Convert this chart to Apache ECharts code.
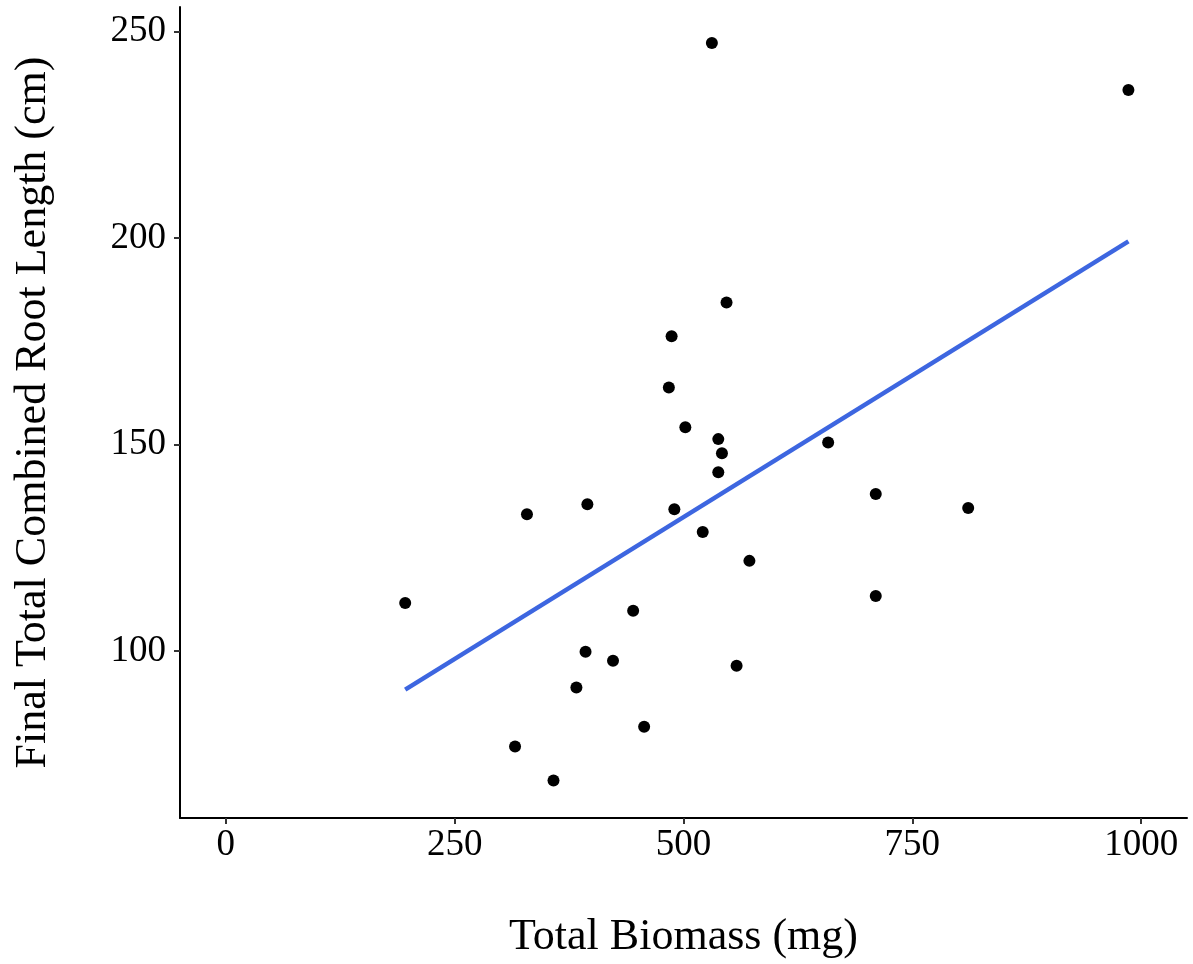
<!DOCTYPE html>
<html>
<head>
<meta charset="utf-8">
<script src="https://cdn.jsdelivr.net/npm/echarts@6/dist/echarts.min.js"></script>
<style>
html,body{margin:0;padding:0;background:#fff;}
#chart{width:1193px;height:964px;}
</style>
</head>
<body>
<div id="chart"></div>
<script>
// Data
var biomass = [196, 316, 329, 358, 383, 395, 393, 423, 445, 457, 484, 487, 490, 502, 521, 531, 538, 538, 542, 547, 558, 572, 658, 710, 710, 811, 986];
var rootLength = [111.6, 76.8, 133.1, 68.6, 91.1, 135.5, 99.8, 97.6, 109.7, 81.6, 163.8, 176.2, 134.3, 154.2, 128.8, 247.3, 151.3, 143.3, 147.9, 184.4, 96.4, 121.8, 150.5, 138.0, 113.3, 134.6, 235.9];
// Linear fit endpoints
var fitX = [196, 986];
var fitY = [90.6, 199.2];
var xTicks = [0, 250, 500, 750, 1000];
var yTicks = [100, 150, 200, 250];

var points = biomass.map(function (x, i) { return [x, rootLength[i]]; });
var fitLine = fitX.map(function (x, i) { return [x, fitY[i]]; });

var font = 'Liberation Serif';
var chart = echarts.init(document.getElementById('chart'));
chart.setOption({
  animation: false,
  backgroundColor: '#ffffff',
  grid: { left: 180, right: 6, top: 7, bottom: 145, containLabel: false },
  xAxis: {
    type: 'value', min: -50, max: 1050,
    name: 'Total Biomass (mg)', nameLocation: 'middle', nameGap: 97,
    nameTextStyle: { fontFamily: font, fontSize: 44, color: '#000' },
    axisLine: { show: true, onZero: false, lineStyle: { color: '#000', width: 2 } },
    axisTick: { show: true, length: 6, customValues: xTicks, lineStyle: { color: '#333', width: 2 } },
    axisLabel: { customValues: xTicks, fontFamily: font, fontSize: 37, color: '#000', margin: 9,
      formatter: function (v) { return String(v); } },
    splitLine: { show: false }
  },
  yAxis: {
    type: 'value', min: 59.5, max: 256,
    name: 'Final Total Combined Root Length (cm)', nameLocation: 'middle', nameGap: 125,
    nameTextStyle: { fontFamily: font, fontSize: 44, color: '#000' },
    axisLine: { show: true, onZero: false, lineStyle: { color: '#000', width: 2 } },
    axisTick: { show: true, length: 6, customValues: yTicks, lineStyle: { color: '#333', width: 2 } },
    axisLabel: { customValues: yTicks, fontFamily: font, fontSize: 37, color: '#000', margin: 14,
      formatter: function (v) { return String(v); } },
    splitLine: { show: false }
  },
  series: [
    {
      type: 'scatter', data: points, symbolSize: 12,
      itemStyle: { color: '#000', opacity: 1 }, z: 3
    },
    {
      type: 'line', data: fitLine, showSymbol: false, symbol: 'none',
      lineStyle: { color: '#3D66E0', width: 4.5 }, z: 2
    }
  ]
});
</script>
</body>
</html>
